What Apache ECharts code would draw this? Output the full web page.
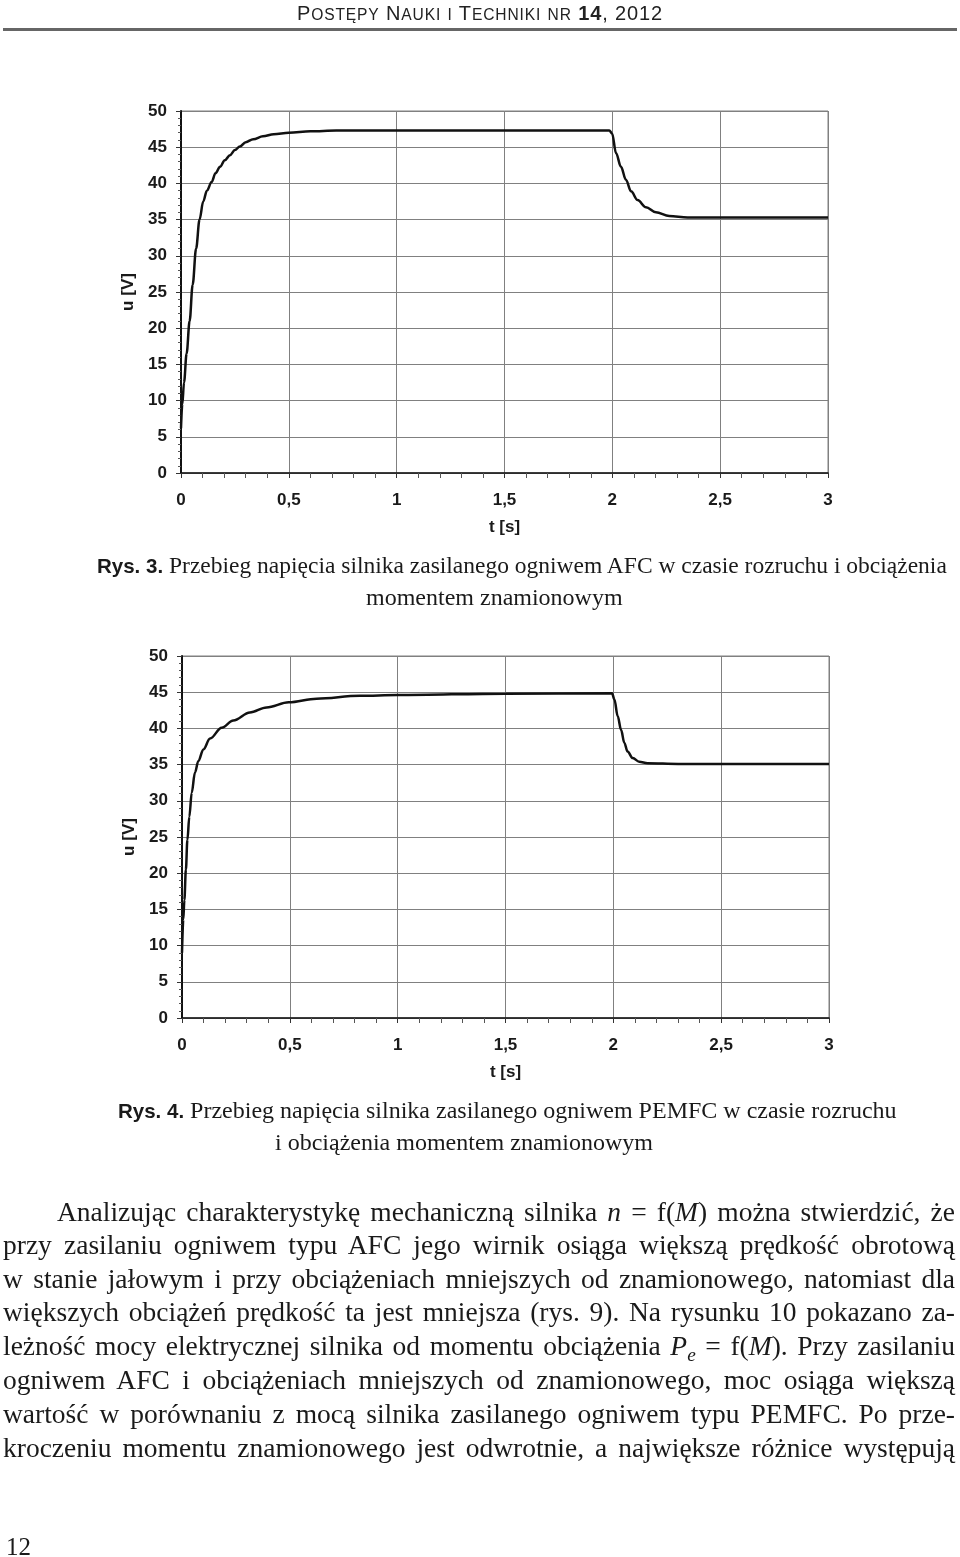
<!DOCTYPE html>
<html>
<head>
<meta charset="utf-8">
<script src="https://cdn.jsdelivr.net/npm/echarts@6/dist/echarts.min.js"></script>
<style>
html,body{margin:0;padding:0;background:#fff;}
#page{position:relative;width:960px;height:1557px;overflow:hidden;background:#fff;}
#chart{position:absolute;left:0;top:0;width:960px;height:1557px;}
.t{position:absolute;white-space:nowrap;color:#1a1a1a;z-index:2;line-height:1;}
.serif{font-family:"Liberation Serif","Times New Roman",serif;}
.sans{font-family:"Liberation Sans",Arial,sans-serif;}
.just{text-align:justify;text-align-last:justify;white-space:normal;}
#hdr{font-family:"Liberation Sans",Arial,sans-serif;font-size:20px;color:#222;}
#hdr .s{font-size:15.6px;}
#rule{position:absolute;left:3px;top:28px;width:954px;height:3px;background:#666;}
sub{font-size:70%;vertical-align:-0.3em;line-height:0;}
.cap{font-size:23.5px;}
.cap b{font-family:"Liberation Sans",Arial,sans-serif;font-size:20.5px;}
.body{font-size:27.5px;}
</style>
</head>
<body>
<div id="page">
<div id="chart"></div>
<div id="rule"></div>
<div class="t" id="hdr" style="left:297px;top:3px;">P<span class="s">OSTĘPY</span> N<span class="s">AUKI</span> <span class="s">I</span> T<span class="s">ECHNIKI</span> <span class="s">NR</span> <b>14</b>, 2012</div>

<div class="t serif cap" id="c1a" style="left:97px;top:554px;"><b>Rys. 3.</b> Przebieg napięcia silnika zasilanego ogniwem AFC w czasie rozruchu i obciążenia</div>
<div class="t serif cap" id="c1b" style="left:366px;top:585px;font-size:24px;">momentem znamionowym</div>

<div class="t serif cap" id="c2a" style="left:118px;top:1098px;font-size:24px;"><b>Rys. 4.</b> Przebieg napięcia silnika zasilanego ogniwem PEMFC w czasie rozruchu</div>
<div class="t serif cap" id="c2b" style="left:275px;top:1130px;font-size:24px;">i obciążenia momentem znamionowym</div>

<div class="t serif just body" style="left:57px;width:898px;top:1198px;">Analizując charakterystykę mechaniczną silnika <i>n</i> = f(<i>M</i>) można stwierdzić, że</div>
<div class="t serif just body" style="left:3px;width:952px;top:1231px;">przy zasilaniu ogniwem typu AFC jego wirnik osiąga większą prędkość obrotową</div>
<div class="t serif just body" style="left:3px;width:952px;top:1265px;">w stanie jałowym i przy obciążeniach mniejszych od znamionowego, natomiast dla</div>
<div class="t serif just body" style="left:3px;width:952px;top:1298px;">większych obciążeń prędkość ta jest mniejsza (rys. 9). Na rysunku 10 pokazano za-</div>
<div class="t serif just body" style="left:3px;width:952px;top:1332px;">leżność mocy elektrycznej silnika od momentu obciążenia <i>P</i><sub><i>e</i></sub> = f(<i>M</i>). Przy zasilaniu</div>
<div class="t serif just body" style="left:3px;width:952px;top:1366px;">ogniwem AFC i obciążeniach mniejszych od znamionowego, moc osiąga większą</div>
<div class="t serif just body" style="left:3px;width:952px;top:1400px;">wartość w porównaniu z mocą silnika zasilanego ogniwem typu PEMFC. Po prze-</div>
<div class="t serif just body" style="left:3px;width:952px;top:1434px;">kroczeniu momentu znamionowego jest odwrotnie, a największe różnice występują</div>

<div class="t serif" style="left:6px;top:1534px;font-size:25px;">12</div>
</div>
<script>
// Rys. 3 – AFC
var tAFC = [0, 0.006, 0.014, 0.026, 0.040, 0.054, 0.070, 0.086, 0.103, 0.120, 0.142, 0.160, 0.181, 0.203, 0.227, 0.250, 0.273, 0.300, 0.335, 0.380, 0.430, 0.500, 0.600, 0.720, 1.0, 1.5, 1.986, 1.999, 2.017, 2.04, 2.063, 2.087, 2.117, 2.156, 2.202, 2.264, 2.349, 2.5, 3.0];
var uAFC = [6.2, 9.5, 12.5, 16.5, 21.0, 26.0, 31.0, 35.0, 37.5, 39.0, 40.2, 41.4, 42.3, 43.2, 43.9, 44.6, 45.1, 45.7, 46.1, 46.5, 46.8, 47.0, 47.2, 47.3, 47.3, 47.3, 47.3, 46.9, 44.2, 42.3, 40.5, 38.9, 37.7, 36.7, 36.0, 35.5, 35.3, 35.3, 35.3];
// Rys. 4 – PEMFC
var tPEM = [0, 0.006, 0.011, 0.018, 0.025, 0.034, 0.045, 0.06, 0.076, 0.099, 0.13, 0.184, 0.238, 0.315, 0.392, 0.495, 0.624, 0.824, 1.0, 1.5, 1.994, 2.005, 2.02, 2.036, 2.051, 2.066, 2.09, 2.12, 2.159, 2.3, 3.0];
var uPEM = [9.0, 13.6, 16.3, 20.5, 24.6, 27.8, 31.1, 33.9, 35.5, 37.1, 38.6, 40.1, 41.1, 42.2, 42.9, 43.6, 44.1, 44.5, 44.6, 44.8, 44.85, 44.0, 41.7, 39.8, 38.0, 36.8, 35.9, 35.4, 35.2, 35.1, 35.1];
var xName = 't [s]';
var yName = 'u [V]';

// fit header to its printed width
(function(){
  var h = document.getElementById('hdr');
  var n = h.textContent.length;
  var w = h.getBoundingClientRect().width;
  h.style.letterSpacing = ((366 - w) / n) + 'px';
})();

function pairs(t, u){ return t.map(function(v,i){ return [v, u[i]]; }); }

var labelFont = {fontFamily:'"Liberation Sans", Arial, sans-serif', fontWeight:'bold', fontSize:17, color:'#1a1a1a'};
function xAxis(idx){
  return {
    gridIndex: idx, type:'value', min:0, max:3, interval:0.5,
    name: xName, nameLocation:'middle', nameGap:46,
    nameTextStyle: labelFont,
    axisLine:{show:true, onZero:false, lineStyle:{color:'#111', width:1.5}},
    axisTick:{show:true, inside:false, length:5, lineStyle:{color:'#333', width:1}},
    minorTick:{show:true, splitNumber:5, length:5, lineStyle:{color:'#555', width:1}},
    splitLine:{show:true, lineStyle:{color:'#808080', width:1}},
    axisLabel: Object.assign({margin:19, formatter:function(v){ return String(v).replace('.', ','); }}, labelFont)
  };
}
function yAxis(idx){
  return {
    gridIndex: idx, type:'value', min:0, max:50, interval:5,
    name: yName, nameLocation:'middle', nameGap:40,
    nameTextStyle: labelFont,
    axisLine:{show:true, onZero:false, lineStyle:{color:'#111', width:2}},
    axisTick:{show:true, inside:false, length:5, lineStyle:{color:'#333', width:1}},
    minorTick:{show:true, splitNumber:5, length:3, lineStyle:{color:'#555', width:1}},
    splitLine:{show:true, lineStyle:{color:'#808080', width:1}},
    axisLabel: Object.assign({margin:14}, labelFont)
  };
}
var chart = echarts.init(document.getElementById('chart'), null, {renderer:'canvas'});
chart.setOption({
  animation:false,
  backgroundColor:'#fff',
  grid:[
    {left:181, top:111, width:647, height:362, show:true, borderColor:'#808080', borderWidth:1},
    {left:182, top:656, width:647, height:362, show:true, borderColor:'#808080', borderWidth:1}
  ],
  xAxis:[xAxis(0), xAxis(1)],
  yAxis:[yAxis(0), yAxis(1)],
  series:[
    {type:'line', xAxisIndex:0, yAxisIndex:0, data:pairs(tAFC,uAFC), showSymbol:false, smooth:0.35, smoothMonotone:'x', lineStyle:{color:'#111', width:2.5}},
    {type:'line', xAxisIndex:1, yAxisIndex:1, data:pairs(tPEM,uPEM), showSymbol:false, smooth:0.35, smoothMonotone:'x', lineStyle:{color:'#111', width:2.5}}
  ]
});
</script>
</body>
</html>
